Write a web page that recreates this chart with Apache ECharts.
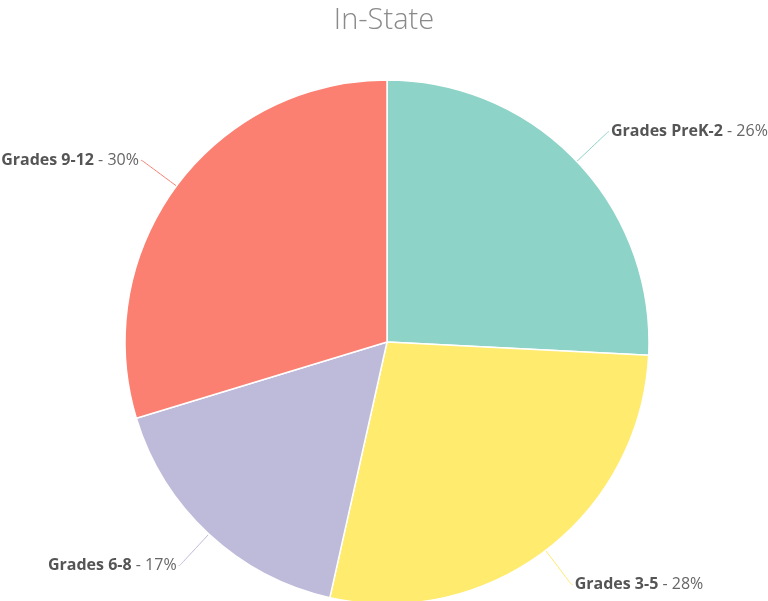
<!DOCTYPE html>
<html>
<head>
<meta charset="utf-8">
<script src="https://cdn.jsdelivr.net/npm/echarts@6/dist/echarts.min.js"></script>
<style>
html,body{margin:0;padding:0;background:#fff;}
#chart{width:768px;height:601px;}
</style>
</head>
<body>
<div id="chart"></div>
<script>
const chartTitle = 'In-State';
const categories = ['Grades PreK-2', 'Grades 3-5', 'Grades 6-8', 'Grades 9-12'];
const values = [25.8, 27.7, 16.8, 29.7];
const colors = ['#8dd3c7', '#ffeb6e', '#bebada', '#fb8072'];

const total = values.reduce((a, b) => a + b, 0);
const chart = echarts.init(document.getElementById('chart'));
chart.setOption({
  animation: false,
  backgroundColor: '#ffffff',
  title: {
    text: chartTitle,
    left: 'center',
    top: 1,
    textStyle: { fontFamily: 'Open Sans', fontWeight: 300, fontSize: 29, color: '#8a8a8a' }
  },
  series: [{
    type: 'pie',
    center: [387, 342],
    radius: 262,
    startAngle: 90,
    clockwise: true,
    avoidLabelOverlap: false,
    itemStyle: { borderColor: '#ffffff', borderWidth: 1.5 },
    label: {
      show: true,
      position: 'outside',
      distanceToLabelLine: 2,
      formatter: p => '{n|' + p.name + '}{v| - ' + Math.round(p.value / total * 100) + '%}',
      rich: {
        n: { fontFamily: 'Open Sans', fontWeight: 'bold', fontSize: 16, color: '#555555' },
        v: { fontFamily: 'Open Sans', fontWeight: 'normal', fontSize: 16, color: '#666666' }
      }
    },
    labelLine: {
      show: true,
      length: 43,
      length2: 1,
      smooth: 0.4,
      lineStyle: { width: 1 }
    },
    data: categories.map((c, i) => ({ name: c, value: values[i], itemStyle: { color: colors[i] } }))
  }]
});
</script>
</body>
</html>
